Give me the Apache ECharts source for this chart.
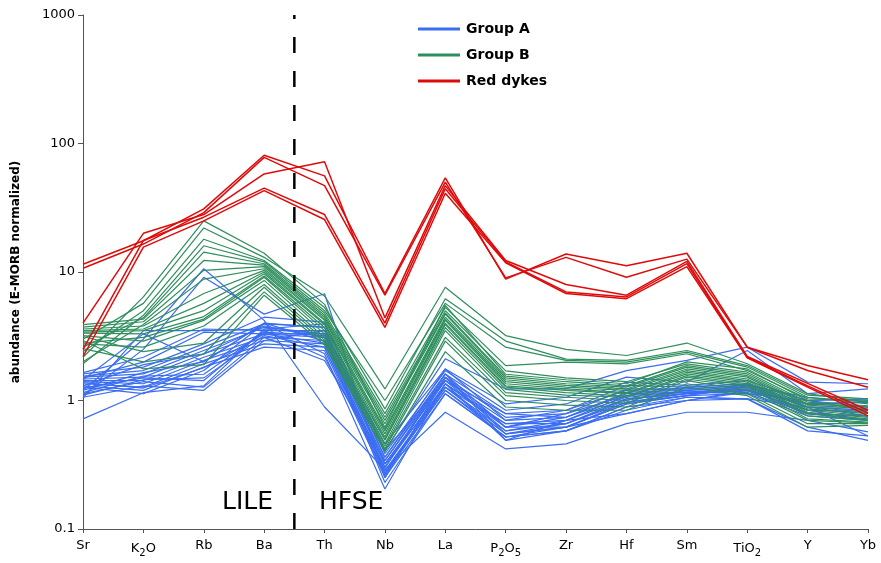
<!DOCTYPE html>
<html><head><meta charset="utf-8">
<script src="https://cdn.jsdelivr.net/npm/echarts@6/dist/echarts.min.js"></script>
<style>html,body{margin:0;padding:0;background:#fff}#c{width:881px;height:563px}</style>
</head><body><div id="c"></div>
<script>
const categories = ['Sr','K2O','Rb','Ba','Th','Nb','La','P2O5','Zr','Hf','Sm','TiO2','Y','Yb'];
const yTicks = [0.1, 1, 10, 100, 1000];
const dividerAt = 3.5;

const groupA = [
  [1.2,3.0,10.6,4.2,0.89,0.29,0.81,0.42,0.46,0.66,0.81,0.81,0.70,0.57],
  [1.1,2.5,9.1,4.7,6.77,0.25,1.5,0.62,0.62,0.79,1.0,1.03,0.62,0.49],
  [1.65,2.17,3.6,3.5,3.5,0.41,2.11,1.23,1.23,1.71,2.05,2.6,1.39,1.35],
  [1.5,1.99,3.4,3.3,3.3,0.46,1.76,0.94,1.06,1.52,1.39,2.45,1.13,1.23],
  [1.61,1.82,2.76,4.45,4.07,0.385,1.71,0.84,0.94,1.39,1.31,1.43,1.0,1.03],
  [1.55,1.71,2.6,3.95,3.72,0.362,1.61,0.79,0.84,1.31,1.27,1.35,0.94,0.97],
  [1.52,1.61,2.45,3.72,3.3,0.341,1.52,0.74,0.79,1.23,1.23,1.31,0.89,0.89],
  [1.47,1.52,2.31,3.3,3.1,0.322,1.43,0.70,0.74,1.16,1.2,1.27,0.84,0.84],
  [1.43,1.43,2.17,3.1,2.93,0.303,1.35,0.66,0.70,1.09,1.16,1.23,0.79,0.76],
  [1.4,1.35,2.05,2.93,2.76,0.285,1.27,0.58,0.66,1.03,1.13,1.2,0.84,0.70],
  [1.35,1.27,1.93,2.76,2.6,0.269,1.2,0.55,0.62,0.97,1.09,1.13,1.0,0.89],
  [1.3,1.2,1.82,2.6,2.45,0.253,1.13,0.52,0.58,0.89,1.06,1.03,0.89,0.84],
  [1.27,1.13,1.71,3.95,2.31,0.205,1.35,0.49,0.70,0.79,1.0,1.2,0.94,0.97],
  [1.25,1.5,1.43,3.5,2.17,0.30,1.52,0.55,0.66,1.0,1.2,1.27,0.89,0.76],
  [1.13,1.4,1.27,3.1,2.05,0.34,1.61,0.62,0.79,1.09,1.27,1.35,1.0,1.03],
  [1.06,1.3,1.2,2.93,3.5,0.36,1.76,0.70,0.84,1.2,1.23,1.31,1.06,0.97],
  [1.05,3.5,3.5,3.6,3.95,0.41,1.43,0.79,0.74,1.13,1.16,1.23,0.79,0.70],
  [1.45,3.3,2.0,4.0,3.7,0.32,1.27,0.66,0.66,0.97,1.13,1.2,0.94,0.89],
  [1.3,1.9,2.3,3.8,3.1,0.28,1.2,0.52,0.62,0.94,1.09,1.27,0.89,0.84],
  [1.2,1.65,2.0,4.0,2.9,0.30,1.61,0.49,0.58,0.89,1.0,1.16,0.79,0.76],
  [1.15,1.55,1.6,3.4,3.2,0.32,1.43,0.58,0.70,1.03,1.13,1.2,0.84,0.81],
  [1.1,1.45,1.5,3.2,2.6,0.27,1.35,0.62,0.74,1.06,1.16,1.13,0.76,0.70],
  [1.38,1.25,1.8,3.3,2.8,0.26,1.27,0.55,0.62,0.94,1.09,1.35,0.89,0.53],
  [0.72,1.15,1.3,3.6,3.3,0.23,1.13,0.52,0.58,0.84,1.06,1.03,0.58,0.53]
];
const groupB = [
  [2.17,6.4,25,14,5.6,0.62,5.5,1.6,1.45,1.35,2.0,1.76,1.0,0.84],
  [3.0,5.7,22,13,6.5,1.23,7.6,3.2,2.5,2.24,2.8,1.93,1.13,0.97],
  [2.4,5.0,18,12.3,5.3,0.86,6.2,2.9,2.1,2.05,2.45,1.87,1.1,1.03],
  [1.93,4.6,16,12,5.0,1.0,5.7,2.6,2.05,1.99,2.38,1.82,1.06,0.94],
  [2.6,4.4,14.3,11.6,4.8,0.79,5.3,1.87,1.99,1.93,2.31,1.71,1.03,1.0],
  [3.9,4.3,12.3,11.3,4.6,0.74,5.0,1.7,1.5,1.4,1.93,1.66,0.97,0.91],
  [3.72,4.1,10.3,11,4.45,0.70,4.8,1.55,1.4,1.3,1.87,1.61,0.94,0.89],
  [2.0,3.9,8.8,10.6,4.3,0.66,4.7,1.5,1.35,1.27,1.82,1.56,0.92,0.86],
  [3.6,3.8,6.8,10.3,4.2,0.60,4.45,1.45,1.31,1.23,1.76,1.52,0.89,0.81],
  [3.5,3.6,5.7,10,4.0,0.58,4.3,1.4,1.27,1.2,1.71,1.47,0.86,0.79],
  [3.4,3.5,5.0,9.7,3.9,0.55,4.2,1.35,1.23,1.15,1.66,1.43,0.84,0.76],
  [3.34,3.3,4.5,9.3,3.7,0.52,4.0,1.3,1.2,1.13,1.61,1.39,0.81,0.74],
  [2.8,3.1,4.3,9.1,3.5,0.50,3.9,1.27,1.15,1.08,1.56,1.35,0.79,0.72],
  [3.2,2.9,4.2,8.6,3.3,0.49,3.7,1.22,1.1,1.06,1.52,1.31,0.76,0.70],
  [2.76,2.6,3.8,8,3.1,0.46,3.5,1.15,1.06,1.0,1.47,1.27,0.72,0.68],
  [3.15,2.4,2.8,7.6,2.95,0.44,3.1,1.09,1.0,0.95,1.43,1.2,0.70,0.67],
  [2.53,2.0,2.3,7,2.84,0.42,2.9,1.0,0.92,0.89,1.35,1.13,0.66,0.66],
  [2.93,1.76,1.9,6.6,2.7,0.40,2.4,0.89,0.84,0.84,1.27,1.09,0.62,0.64]
];
const redDykes = [
  [11.5,17.5,31,81,56,6.8,54,8.8,13.8,11.2,14.0,2.6,1.87,1.45],
  [10.7,16.5,29,78,47,6.6,50,9.0,13.0,9.1,12.6,2.6,1.71,1.27],
  [4.0,20,28,58,72,4.4,47,12.3,8.0,6.6,12.1,2.2,1.36,0.84],
  [2.5,17.6,26.7,45,28,4.0,44.5,12.0,7.0,6.4,11.6,2.17,1.3,0.80],
  [2.2,15.6,25,43,25.6,3.7,41,11.8,6.8,6.2,11.0,2.15,1.27,0.76]
];

const groups = [
  {name:'Group A', color:'#3b6df2', width:1.2, rows:groupA},
  {name:'Group B', color:'#2e8e5c', width:1.2, rows:groupB},
  {name:'Red dykes', color:'#e00a0a', width:1.5, rows:redDykes}
];

const series = [];
groups.forEach(g => g.rows.forEach(r => series.push({
  name:g.name, type:'line', data:r, symbol:'none', silent:true,
  lineStyle:{color:g.color, width:g.width}, itemStyle:{color:g.color},
  emphasis:{disabled:true}, z:2
})));
series.push({
  type:'line', xAxisIndex:1, symbol:'none', silent:true, z:5,
  data:[[dividerAt, yTicks[0]],[dividerAt, yTicks[yTicks.length-1]]],
  lineStyle:{color:'#000', width:2.5, type:[16,18]}
});

function fmtCat(s){
  return s.replace(/(\d+)/g, '{sub|$1}');
}

const chart = echarts.init(document.getElementById('c'), null, {renderer:'canvas'});
chart.setOption({
  animation:false,
  backgroundColor:'#fff',
  grid:{left:83, right:13, top:15, bottom:34, containLabel:false},
  legend:{
    data:groups.map(g=>g.name), orient:'vertical', left:413, top:17,
    icon:'rect', itemWidth:42, itemHeight:3, itemGap:12,
    textStyle:{fontFamily:'DejaVu Sans', fontSize:14, fontWeight:'bold', color:'#000', padding:[0,0,0,1]}
  },
  xAxis:[{
    type:'category', data:categories, boundaryGap:false,
    axisLine:{lineStyle:{color:'#555', width:1}},
    axisTick:{show:true, length:4, lineStyle:{color:'#555'}},
    axisLabel:{
      fontFamily:'DejaVu Sans', fontSize:13, color:'#000', margin:10, interval:0,
      formatter:v=>fmtCat(v),
      rich:{sub:{fontFamily:'DejaVu Sans', fontSize:10, color:'#000', padding:[9,0,0,0]}}
    },
    splitLine:{show:false}
  },{
    type:'value', min:0, max:categories.length-1, show:false
  }],
  yAxis:{
    type:'log', logBase:10, min:yTicks[0], max:yTicks[yTicks.length-1],
    name:'abundance (E-MORB normalized)', nameLocation:'middle', nameGap:61,
    nameTextStyle:{fontFamily:'DejaVu Sans', fontSize:12, fontWeight:'bold', color:'#000'},
    axisLine:{show:true, lineStyle:{color:'#555', width:1}},
    axisTick:{show:true, length:5, lineStyle:{color:'#555'}},
    axisLabel:{fontFamily:'DejaVu Sans', fontSize:13, color:'#000', margin:8,
      formatter:v=>String(+v.toPrecision(3))},
    splitLine:{show:false}, minorTick:{show:false}
  },
  graphic:[
    {type:'text', left:222, top:490, style:{text:'LILE', font:'25px "DejaVu Sans"', fill:'#000'}},
    {type:'text', left:319, top:490, style:{text:'HFSE', font:'25px "DejaVu Sans"', fill:'#000'}}
  ],
  series:series
});
</script></body></html>
